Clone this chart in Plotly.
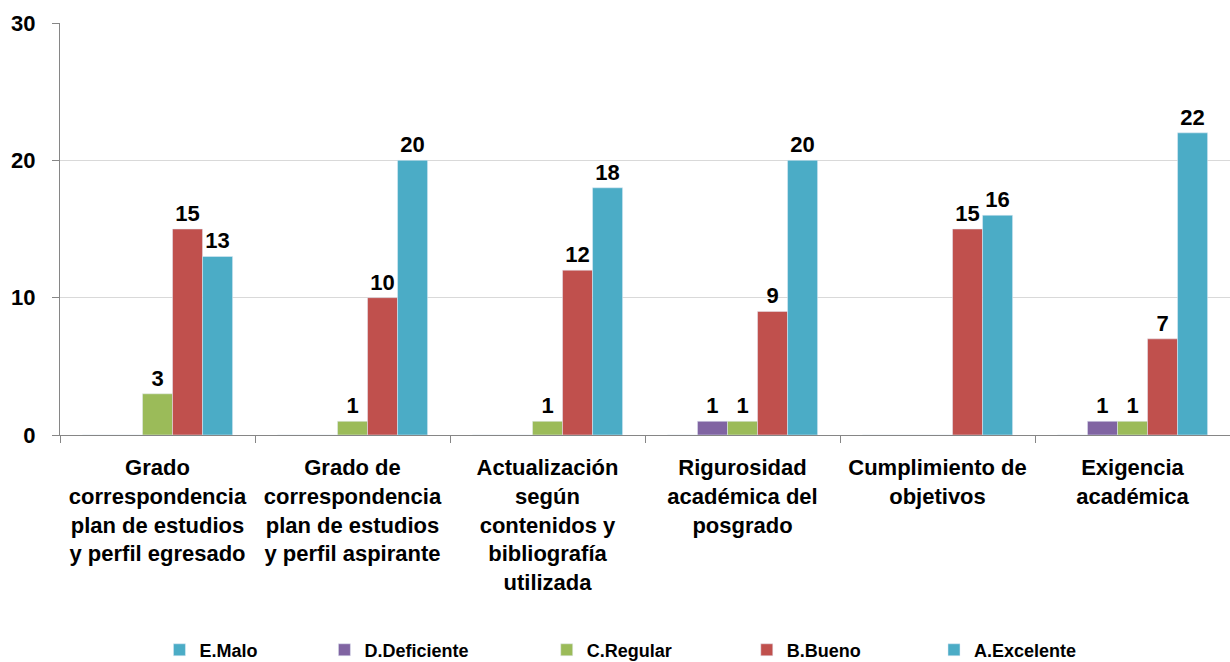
import plotly.graph_objects as go

categorias = [
    "Grado<br>correspondencia<br>plan de estudios<br>y perfil egresado",
    "Grado de<br>correspondencia<br>plan de estudios<br>y perfil aspirante",
    "Actualización<br>según<br>contenidos y<br>bibliografía<br>utilizada",
    "Rigurosidad<br>académica del<br>posgrado",
    "Cumplimiento de<br>objetivos",
    "Exigencia<br>académica",
]
e_malo = [0, 0, 0, 0, 0, 0]
d_deficiente = [0, 0, 0, 1, 0, 1]
c_regular = [3, 1, 1, 1, 0, 1]
b_bueno = [15, 10, 12, 9, 15, 7]
a_excelente = [13, 20, 18, 20, 16, 22]

series = [
    ("E.Malo", e_malo, "#4BACC6"),
    ("D.Deficiente", d_deficiente, "#8064A2"),
    ("C.Regular", c_regular, "#9BBB59"),
    ("B.Bueno", b_bueno, "#C0504D"),
    ("A.Excelente", a_excelente, "#4BACC6"),
]
# posición horizontal de cada leyenda (fracción del área del gráfico)
pos_leyenda = [0.085, 0.226, 0.416, 0.587, 0.747]

fig = go.Figure()
for i, (nombre, valores, color) in enumerate(series):
    fig.add_trace(go.Bar(
        x=categorias,
        y=valores,
        name=nombre,
        marker_color=color,
        text=["" if v == 0 else str(v) for v in valores],
        textposition="outside",
        textfont=dict(size=22, color="black", family="Liberation Sans, Arial", weight="bold"),
        cliponaxis=False,
        showlegend=True,
        legend="legend" if i == 0 else "legend%d" % (i + 1),
    ))

leyendas = {}
for i, x in enumerate(pos_leyenda):
    clave = "legend" if i == 0 else "legend%d" % (i + 1)
    leyendas[clave] = dict(
        x=x, xanchor="left",
        y=0.018, yref="container", yanchor="middle",
        orientation="h",
        itemwidth=30,
        visible=True,
        font=dict(size=18, weight="bold", family="Liberation Sans, Arial"),
        bgcolor="rgba(0,0,0,0)",
    )

fig.update_layout(
    showlegend=True,
    barmode="group",
    bargap=0.23,
    bargroupgap=0,
    width=1230,
    height=662,
    margin=dict(l=60, r=0, t=23, b=227),
    plot_bgcolor="white",
    paper_bgcolor="white",
    font=dict(family="Liberation Sans, Arial", size=22, color="black", weight="bold"),
    yaxis=dict(
        range=[0, 30],
        dtick=10,
        showgrid=True,
        gridcolor="#D9D9D9",
        showline=True,
        linecolor="#868686",
        ticks="outside",
        ticklen=7,
        tickcolor="#868686",
        tickfont=dict(size=22, weight="bold"),
        ticklabelstandoff=12,
        zeroline=False,
        automargin=False,
    ),
    xaxis=dict(
        showline=True,
        linecolor="#868686",
        ticks="outside",
        ticklen=7,
        tickcolor="#868686",
        tickson="boundaries",
        tickfont=dict(size=22, weight="bold"),
        tickangle=0,
        ticklabelstandoff=13,
        automargin=False,
    ),
    **leyendas,
)

fig.write_html("out.html", config={"displayModeBar": False},
               post_script="document.body.style.margin='0';")
